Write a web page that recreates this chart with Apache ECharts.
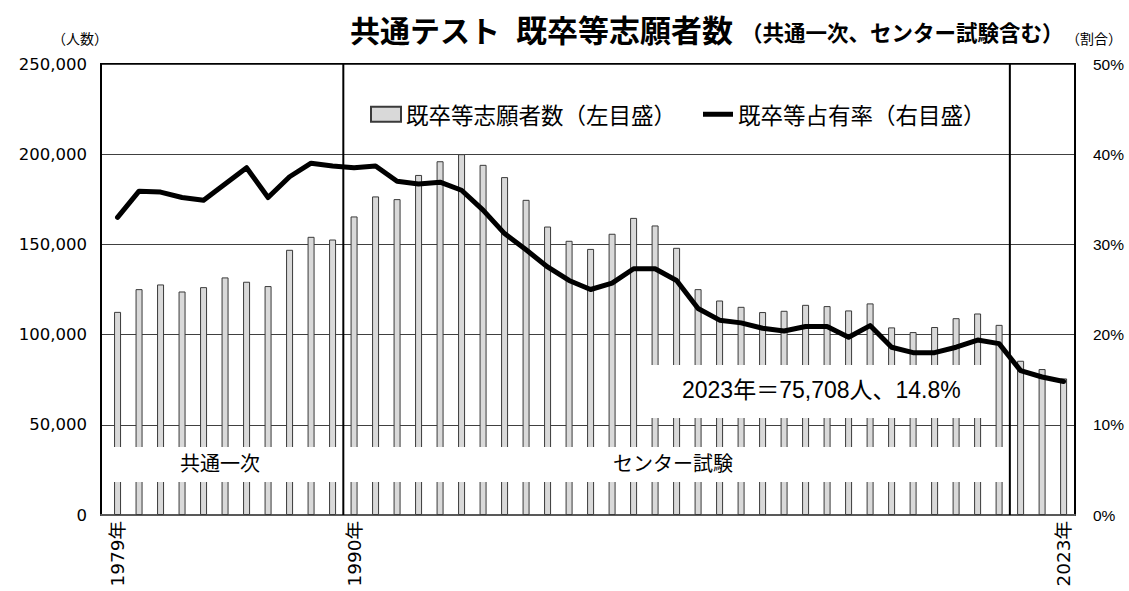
<!DOCTYPE html>
<html>
<head>
<meta charset="utf-8">
<script src="https://cdn.jsdelivr.net/npm/echarts@6/dist/echarts.min.js"></script>
<style>
html,body{margin:0;padding:0;background:#fff;}
#c{width:1129px;height:591px;}
</style>
</head>
<body>
<div id="c"></div>
<script>
const years = ['1979','1980','1981','1982','1983','1984','1985','1986','1987','1988','1989',
  '1990','1991','1992','1993','1994','1995','1996','1997','1998','1999','2000','2001',
  '2002','2003','2004','2005','2006','2007','2008','2009','2010','2011','2012','2013',
  '2014','2015','2016','2017','2018','2019','2020','2021','2022','2023'];
const applicants = [112600,125200,127800,123900,126300,131700,129300,126900,147000,154200,152700,
  165500,176600,175100,188500,196100,200000,194100,187300,174700,159900,152000,147500,
  155900,164700,160500,148100,125200,118900,115400,112500,113200,116500,115800,113400,
  117300,104000,101400,104200,109100,111700,105400,85500,80900,75708];
const shareRate = [33.0,35.9,35.8,35.2,34.9,36.7,38.5,35.2,37.5,39.0,38.7,
  38.5,38.7,37.0,36.7,36.9,36.0,33.8,31.2,29.4,27.5,26.0,25.0,
  25.7,27.3,27.3,26.0,22.9,21.6,21.3,20.7,20.4,20.9,20.9,19.7,
  21.0,18.6,18.0,18.0,18.6,19.4,19.0,16.0,15.3,14.8];
const shownYearLabels = ['1979','1990','2023'];
const periodBoundaries = [['1989','1990'],['2020','2021']];
const barName = '既卒等志願者数（左目盛）';
const lineName = '既卒等占有率（右目盛）';

const CJK = '"Noto Sans CJK JP", sans-serif';
const chart = echarts.init(document.getElementById('c'), null, {renderer:'svg'});

const barData = applicants.map((v,i)=>[i,v]);
const lineData = shareRate.map((v,i)=>[i,v]);
const labelIdx = shownYearLabels.map(y=>years.indexOf(y));

const option = {
  backgroundColor:'#fff',
  animation:false,
  grid:{left:101,right:54,top:64,bottom:76,show:true,borderColor:'#000',borderWidth:2,backgroundColor:'transparent'},
  legend:{
    left:365, top:98, itemWidth:30, itemHeight:15, itemGap:27,
    textStyle:{fontSize:22.5,fontFamily:CJK,color:'#000'},
    data:[{name:barName,icon:'rect'},{name:lineName,icon:'path://M0,0 L30,0 L30,5 L0,5 Z'}]
  },
  xAxis:{
    type:'value', min:-0.77, max:44.53,
    axisLine:{show:true,onZero:false,lineStyle:{color:'#595959',width:2}},
    axisTick:{show:false},
    axisLabel:{
      rotate:90, margin:6, customValues:labelIdx,
      formatter:v=>years[Math.round(v)]+'年',
      fontSize:18.5, fontFamily:'"DejaVu Sans", '+CJK, color:'#000'
    },
    splitLine:{show:false}
  },
  yAxis:[
    {type:'value',min:0,max:250000,interval:50000,
     axisLine:{show:true,onZero:false,lineStyle:{color:'#000',width:2}},
     axisTick:{show:false},
     axisLabel:{margin:14,fontSize:16.5,fontFamily:'"DejaVu Sans", sans-serif',color:'#000'},
     splitLine:{show:true,lineStyle:{color:'#404040',width:1}}},
    {type:'value',min:0,max:50,interval:10,position:'right',
     axisLine:{show:true,onZero:false,lineStyle:{color:'#000',width:2}},
     axisTick:{show:false},
     axisLabel:{margin:18,fontSize:15.5,formatter:'{value}%',fontFamily:'"Liberation Sans", sans-serif',color:'#000'},
     splitLine:{show:false}}
  ],
  series:[
    {name:barName,type:'bar',data:barData,barWidth:7,yAxisIndex:0,
     itemStyle:{color:'#d9d9d9',borderColor:'#3a3a3a',borderWidth:1}},
    {name:lineName,type:'line',data:lineData,yAxisIndex:1,symbol:'none',
     itemStyle:{color:'#000'},
     lineStyle:{color:'#000',width:5,join:'round',cap:'round'},z:4}
  ]
};
chart.setOption(option);

function xPx(v){return chart.convertToPixel({xAxisIndex:0},v);}
function yPx(v){return chart.convertToPixel({yAxisIndex:0},v);}
const yTop = yPx(250000), yBot = yPx(0);
const graphics = [];
// white annotation boxes
graphics.push({type:'rect',z:50,shape:{x:102,y:447,width:904,height:35},style:{fill:'#fff'}});
graphics.push({type:'rect',z:50,shape:{x:643,y:365,width:347,height:53},style:{fill:'#fff'}});
// period boundary lines
periodBoundaries.forEach(p=>{
  const x = (xPx(years.indexOf(p[0]))+xPx(years.indexOf(p[1])))/2;
  graphics.push({type:'line',z:60,shape:{x1:x,y1:yTop,x2:x,y2:yBot},style:{stroke:'#000',lineWidth:2}});
});
// texts
graphics.push({type:'text',z:70,left:350,top:14,style:{text:'共通テスト',font:'bold 30px '+CJK,fill:'#000'}});
graphics.push({type:'text',z:70,left:516,top:13,style:{text:'既卒等志願者数',font:'bold 31px '+CJK,fill:'#000'}});
graphics.push({type:'text',z:70,left:741,top:21,style:{text:'（共通一次、センター試験含む）',font:'bold 21.5px '+CJK,fill:'#000'}});
graphics.push({type:'text',z:70,left:52,top:31,style:{text:'（人数）',font:'14px '+CJK,fill:'#000'}});
graphics.push({type:'text',z:70,left:1066,top:31,style:{text:'（割合）',font:'14px '+CJK,fill:'#000'}});
graphics.push({type:'text',z:70,left:180,top:452,style:{text:'共通一次',font:'20px '+CJK,fill:'#000'}});
graphics.push({type:'text',z:70,left:613,top:452,style:{text:'センター試験',font:'20px '+CJK,fill:'#000'}});
graphics.push({type:'text',z:70,left:682,top:378,style:{text:'2023年＝75,708人、14.8%',font:'23px "Liberation Sans", '+CJK,fill:'#000'}});
chart.setOption({graphic:graphics});
</script>
</body>
</html>
